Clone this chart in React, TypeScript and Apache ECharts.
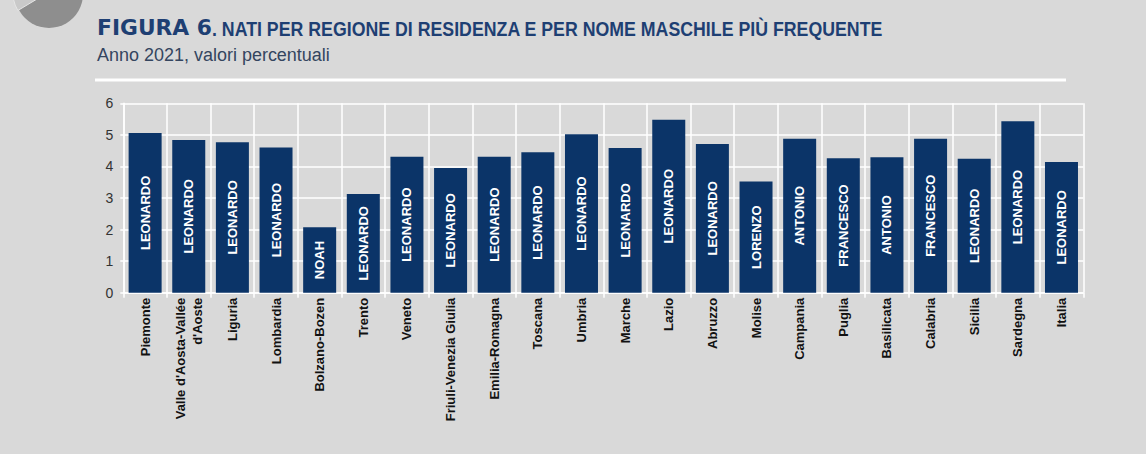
import React, { useEffect, useRef } from "react";
import * as echarts from "echarts";

const regions = [
  "Piemonte",
  "Valle d'Aosta-Vallée\nd'Aoste",
  "Liguria",
  "Lombardia",
  "Bolzano-Bozen",
  "Trento",
  "Veneto",
  "Friuli-Venezia Giulia",
  "Emilia-Romagna",
  "Toscana",
  "Umbria",
  "Marche",
  "Lazio",
  "Abruzzo",
  "Molise",
  "Campania",
  "Puglia",
  "Basilicata",
  "Calabria",
  "Sicilia",
  "Sardegna",
  "Italia",
];

const percentages = [
  5.06, 4.84, 4.77, 4.6, 2.07, 3.13, 4.31, 3.95, 4.31, 4.45, 5.02, 4.58, 5.48,
  4.71, 3.52, 4.88, 4.26, 4.29, 4.88, 4.24, 5.43, 4.14,
];

const topNames = [
  "LEONARDO", "LEONARDO", "LEONARDO", "LEONARDO", "NOAH", "LEONARDO",
  "LEONARDO", "LEONARDO", "LEONARDO", "LEONARDO", "LEONARDO", "LEONARDO",
  "LEONARDO", "LEONARDO", "LORENZO", "ANTONIO", "FRANCESCO", "ANTONIO",
  "FRANCESCO", "LEONARDO", "LEONARDO", "LEONARDO",
];

const yTicks = [0, 1, 2, 3, 4, 5, 6];

const titleA = "FIGURA 6";
const titleB = ". NATI PER REGIONE DI RESIDENZA E PER NOME MASCHILE PIÙ FREQUENTE";
const subtitle = "Anno 2021, valori percentuali";

const NAVY = "#1e3f73";
const BAR = "#0b3468";
const BG = "#d9d9d9";

function measure(text: string, font: string): number {
  const c = document.createElement("canvas").getContext("2d");
  if (!c) return 100;
  c.font = font;
  return c.measureText(text).width || 100;
}

export default function App() {
  const ref = useRef<HTMLDivElement>(null);

  useEffect(() => {
    document.body.style.margin = "0";
    document.body.style.background = BG;
    if (!ref.current) return;
    const chart = echarts.init(ref.current, undefined, { renderer: "svg" });

    const fA = "bold 22px 'DejaVu Sans'";
    const fB = "bold 21px 'Liberation Sans'";
    const fS = "18px 'Liberation Sans'";
    const sA = 115 / measure(titleA, fA);
    const sB = 671 / measure(titleB, fB);
    const sS = 233 / measure(subtitle, fS);

    chart.setOption({
      animation: false,
      backgroundColor: BG,
      grid: { left: 123.3, right: 62.7, top: 103.3, bottom: 161.3 },
      xAxis: {
        type: "category",
        data: regions,
        axisLine: { show: true, lineStyle: { color: "#ffffff", width: 1.5 } },
        axisTick: { show: true, length: 5, lineStyle: { color: "#ffffff", width: 1.5 } },
        splitLine: { show: true, interval: 0, lineStyle: { color: "#ffffff", width: 1.5 } },
        axisLabel: {
          interval: 0,
          rotate: 90,
          margin: 5,
          color: "#111111",
          fontSize: 13,
          fontWeight: "bold",
          fontFamily: "Liberation Sans",
          lineHeight: 17,
        },
      },
      yAxis: {
        type: "value",
        min: yTicks[0],
        max: yTicks[yTicks.length - 1],
        interval: 1,
        axisLine: { show: true, lineStyle: { color: "#ffffff", width: 1.5 } },
        axisTick: { show: true, length: 3, lineStyle: { color: "#ffffff", width: 1.5 } },
        splitLine: { show: true, lineStyle: { color: "#ffffff", width: 1.5 } },
        axisLabel: {
          margin: 10,
          color: "#333333",
          fontSize: 14,
          fontFamily: "Liberation Sans",
        },
      },
      series: [
        {
          type: "bar",
          data: percentages,
          barWidth: 33,
          itemStyle: { color: BAR },
          label: {
            show: true,
            position: "inside",
            rotate: 90,
            align: "center",
            verticalAlign: "middle",
            color: "#ffffff",
            fontSize: 13,
            fontWeight: "bold",
            fontFamily: "Liberation Sans",
            formatter: (p: any) => topNames[p.dataIndex],
          },
        },
      ],
      graphic: [
        {
          type: "circle",
          shape: { cx: 49, cy: -6, r: 34 },
          style: { fill: "#8e8e8e" },
        },
        {
          type: "sector",
          shape: { cx: 47, cy: -7, r: 34, r0: 0, startAngle: 2.6, endAngle: 3.3 },
          style: { fill: "#c9c9c9", stroke: "#e6e6e6", lineWidth: 1 },
        },
        {
          type: "text",
          x: 97,
          y: 27.5,
          scaleX: sA,
          style: {
            text: titleA,
            fill: NAVY,
            font: fA,
            align: "left",
            verticalAlign: "middle",
          },
        },
        {
          type: "text",
          x: 212,
          y: 28,
          scaleX: sB,
          style: {
            text: titleB,
            fill: NAVY,
            font: fB,
            align: "left",
            verticalAlign: "middle",
          },
        },
        {
          type: "text",
          x: 97,
          y: 55,
          scaleX: sS,
          style: {
            text: subtitle,
            fill: "#34455f",
            font: fS,
            align: "left",
            verticalAlign: "middle",
          },
        },
        {
          type: "line",
          shape: { x1: 95, y1: 80, x2: 1066, y2: 80 },
          style: { stroke: "#ffffff", lineWidth: 3 },
        },
      ],
    });

    return () => chart.dispose();
  }, []);

  return <div ref={ref} style={{ width: 1146, height: 454 }} />;
}
